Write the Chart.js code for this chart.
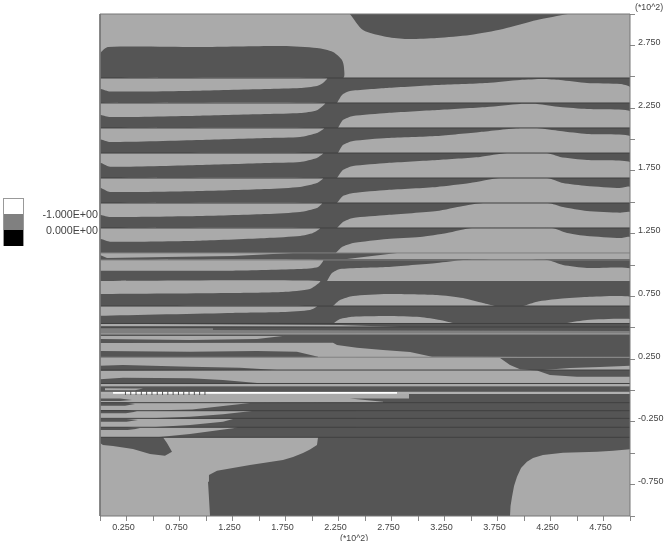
<!DOCTYPE html>
<html lang="en">
<head>
<meta charset="UTF-8" />
<title>Contour plot</title>
<script src="https://cdn.jsdelivr.net/npm/chart.js"></script>
<style>
    html, body { margin: 0; padding: 0; background: #fff; width: 665px; height: 541px; overflow: hidden; }
    #wrap { position: relative; width: 665px; height: 541px; font-family: "Liberation Sans", Arial, sans-serif; color: #444; }
    canvas { position: absolute; left: 0; top: 0; }
    .swatch { position: absolute; left: 3px; width: 19px; height: 16px; border-left: 1px solid #999; border-right: 1px solid #999; }
    .txt { position: absolute; white-space: nowrap; line-height: 12px; }
    .leg { font-size: 10.7px; right: 567px; }
    .unit { font-size: 8.8px; }
</style>
</head>
<body>
<div id="wrap">
    <canvas id="chart" width="665" height="541"></canvas>
    <div class="swatch" style="top:198px;background:#fff;border-top:1px solid #999"></div>
    <div class="swatch" style="top:214px;background:#808080"></div>
    <div class="swatch" style="top:230px;background:#000"></div>
    <span class="txt leg" style="top:208px">-1.000E+00</span>
    <span class="txt leg" style="top:224px">0.000E+00</span>
    <span class="txt unit" style="left:635px;top:1px">(*10^2)</span>
    <span class="txt unit" style="left:340px;top:532px">(*10^2)</span>
</div>
<script>
// tick labels, values are in units of 10^2
const xTickLabels = ["0.250", "0.750", "1.250", "1.750", "2.250", "2.750", "3.250", "3.750", "4.250", "4.750"];
const yTickLabels = ["2.750", "2.250", "1.750", "1.250", "0.750", "0.250", "-0.250", "-0.750"];

const LIGHT = "#aaaaaa", DARK = "#555555", MID = "#7f7f7f";

const fullArea = [[0, -1], [5, -1], [5, 3], [0, 3]];

// dark regions of the contour
const topBlob = [[2.358, 3], [2.481, 2.873], [2.708, 2.817], [2.896, 2.801], [3.179, 2.809], [3.491, 2.833], [3.802, 2.881], [4.123, 2.952], [4.415, 3]];
const leftBlob = [[0, 2.681], [0.01, 2.697], [0.075, 2.737], [0.943, 2.737], [1.726, 2.745], [2.047, 2.729], [2.198, 2.697], [2.283, 2.633], [2.302, 2.57], [2.292, 2.49], [0, 2.49]];
const mainBlock = [[0, 2.49], [5, 2.49], [5, 0.265], [3.132, 0.269], [2.925, 0.307], [2.67, 0.323], [2.425, 0.341], [2.236, 0.363], [2.198, 0.381], [0, 0.378]];
const lowerRight = [[3.774, 0.259], [5, 0.259], [5, 0.11], [4.5, 0.11], [4.245, 0.124], [4.123, 0.159], [3.962, 0.169], [3.868, 0.203]];
const bandB = [[0, 0.315], [0.849, 0.309], [1.481, 0.315], [1.858, 0.309], [2.057, 0.269], [2.057, 0.265], [0, 0.265]];
const bandC = [[0, 0.198], [0.217, 0.203], [0.849, 0.19], [1.321, 0.182], [1.67, 0.163], [0, 0.158]];
const bandD = [[0, 0.089], [0.217, 0.102], [0.849, 0.097], [1.16, 0.084], [1.509, 0.057], [0, 0.057]];
const bandE = [[0, 0.025], [5, 0.025], [5, -0.01], [0, -0.01]];
const finger1 = [[0, -0.064], [0.189, -0.064], [0.302, -0.076], [0.189, -0.084], [0, -0.084]];
const finger2 = [[0, -0.096], [0.236, -0.096], [0.33, -0.108], [0.236, -0.121], [0, -0.121]];
const finger3 = [[0, -0.155], [0.245, -0.155], [0.349, -0.167], [0.245, -0.182], [0, -0.182]];
const finger4 = [[0, -0.227], [0.25, -0.227], [0.358, -0.235], [0.25, -0.249], [0, -0.249]];
const finger5 = [[0, -0.293], [0.26, -0.293], [0.377, -0.303], [0.26, -0.315], [0, -0.315]];
const bottomBlob = [[0, -0.373], [0.594, -0.373], [0.632, -0.418], [0.679, -0.488], [0.613, -0.52], [0.472, -0.506], [0.311, -0.466], [0.123, -0.442], [0.028, -0.434], [0, -0.418]];
const bigDark = [[2.915, -0.028], [5, -0.028], [5, -0.468], [4.84, -0.48], [4.689, -0.488], [4.368, -0.496], [4.179, -0.514], [4.085, -0.538], [4.028, -0.567], [3.972, -0.618], [3.934, -0.687], [3.906, -0.761], [3.887, -0.846], [3.873, -0.92], [3.868, -1], [1.038, -1], [1.019, -0.727], [1.028, -0.673], [1.104, -0.639], [1.415, -0.594], [1.726, -0.554], [1.821, -0.53], [1.915, -0.498], [1.981, -0.471], [2.047, -0.434], [2.057, -0.373], [0.538, -0.373], [0.849, -0.347], [1.255, -0.301], [1.3, -0.293], [0.49, -0.293], [0.849, -0.275], [1.16, -0.249], [1.255, -0.227], [0.472, -0.222], [0.849, -0.209], [1.16, -0.19], [1.434, -0.163], [0.472, -0.159], [0.868, -0.151], [1.415, -0.1], [2.67, -0.097], [2.67, -0.09], [2.358, -0.063], [2.915, -0.063]];

// light fingers, left of the front
const left1 = [[0, 2.49], [2.142, 2.49], [2.104, 2.45], [2.047, 2.426], [1.887, 2.41], [1.575, 2.402], [0.943, 2.389], [0.094, 2.382], [0.01, 2.402], [0, 2.402]];
const left2 = [[0, 2.291], [2.123, 2.291], [2.047, 2.234], [1.887, 2.211], [1.575, 2.203], [0.943, 2.19], [0.094, 2.179], [0.01, 2.195], [0, 2.195]];
const left3 = [[0, 2.092], [2.113, 2.092], [2.047, 2.052], [1.887, 2.02], [1.575, 2.012], [0.943, 1.996], [0.094, 1.98], [0.01, 2.0], [0, 2.0]];
const left4 = [[0, 1.892], [2.104, 1.892], [2.047, 1.853], [1.887, 1.821], [1.575, 1.813], [0.943, 1.797], [0.094, 1.783], [0.01, 1.813], [0, 1.813]];
const left5 = [[0, 1.693], [2.104, 1.693], [2.047, 1.653], [1.887, 1.622], [1.575, 1.606], [0.943, 1.59], [0.094, 1.582], [0.01, 1.614], [0, 1.614]];
const left6 = [[0, 1.494], [2.094, 1.494], [2.047, 1.454], [1.887, 1.422], [1.575, 1.406], [0.943, 1.39], [0.094, 1.382], [0.01, 1.398], [0, 1.398]];
const left7 = [[0, 1.295], [2.075, 1.295], [2.009, 1.255], [1.887, 1.231], [1.575, 1.215], [0.943, 1.194], [0.094, 1.186], [0.01, 1.207], [0, 1.207]];
const left8 = [[0, 1.096], [1.821, 1.096], [1.255, 1.072], [0.632, 1.064], [0.066, 1.056], [0, 1.08]];
const left9 = [[0, 1.04], [2.104, 1.04], [2.057, 0.984], [1.887, 0.968], [1.255, 0.955], [0, 0.955]];
const left10 = [[0, 0.873], [2.075, 0.873], [1.981, 0.809], [1.726, 0.785], [1.255, 0.777], [0, 0.769]];
const left11 = [[0, 0.673], [2.047, 0.673], [1.981, 0.641], [1.726, 0.625], [1.255, 0.618], [0, 0.596]];

// light fingers, right of the front
const right1 = [[2.236, 2.291], [2.283, 2.355], [2.358, 2.386], [2.708, 2.41], [3.179, 2.434], [3.651, 2.45], [3.962, 2.474], [4.179, 2.482], [4.34, 2.474], [4.594, 2.45], [4.906, 2.442], [5, 2.418], [5, 2.291]];
const right2 = [[2.245, 2.092], [2.292, 2.155], [2.387, 2.187], [2.708, 2.211], [3.179, 2.235], [3.651, 2.259], [3.962, 2.283], [4.123, 2.283], [4.34, 2.259], [4.594, 2.243], [5, 2.227], [5, 2.092]];
const right3 = [[2.245, 1.892], [2.292, 1.956], [2.387, 1.988], [2.708, 2.012], [3.179, 2.028], [3.585, 2.06], [3.962, 2.092], [4.123, 2.092], [4.34, 2.068], [4.594, 2.044], [5, 2.028], [5, 1.892]];
const right4 = [[2.236, 1.693], [2.292, 1.757], [2.387, 1.789], [2.708, 1.813], [3.179, 1.837], [3.585, 1.861], [3.84, 1.892], [4.217, 1.892], [4.34, 1.861], [4.594, 1.837], [5, 1.821], [5, 1.693]];
const right5 = [[2.236, 1.494], [2.292, 1.55], [2.387, 1.574], [2.708, 1.598], [3.179, 1.622], [3.491, 1.653], [3.774, 1.693], [4.217, 1.693], [4.368, 1.653], [4.594, 1.63], [4.906, 1.614], [5, 1.622], [5, 1.494]];
const right6 = [[2.236, 1.295], [2.292, 1.343], [2.387, 1.375], [2.708, 1.398], [3.179, 1.43], [3.425, 1.47], [3.613, 1.494], [4.226, 1.494], [4.368, 1.462], [4.594, 1.43], [4.906, 1.417], [5, 1.422], [5, 1.295]];
const right7 = [[2.226, 1.096], [2.283, 1.143], [2.387, 1.175], [2.708, 1.207], [3.019, 1.223], [3.274, 1.255], [3.509, 1.295], [4.264, 1.295], [4.406, 1.255], [4.594, 1.231], [4.906, 1.215], [5, 1.223], [5, 1.096]];
const right8 = [[2.33, 1.048], [2.802, 1.096], [5, 1.096], [5, 1.048]];
const right9 = [[2.142, 0.873], [2.189, 0.936], [2.264, 0.968], [2.708, 0.984], [3.179, 1.016], [3.425, 1.04], [4.217, 1.04], [4.368, 1.0], [4.594, 0.976], [5, 0.974], [5, 0.873]];
const right10a = [[2.198, 0.673], [2.264, 0.721], [2.387, 0.753], [2.708, 0.769], [3.179, 0.761], [3.425, 0.737], [3.613, 0.697], [3.726, 0.673]];
const right10b = [[3.991, 0.673], [4.123, 0.708], [4.34, 0.731], [4.594, 0.745], [5, 0.747], [5, 0.673]];
const right11a = [[2.208, 0.538], [2.264, 0.57], [2.387, 0.588], [2.708, 0.594], [3.019, 0.586], [3.208, 0.562], [3.33, 0.538]];
const right11b = [[4.406, 0.538], [4.594, 0.562], [5, 0.57], [5, 0.538]];

// thin slivers around y = 0.5 and y = 0
const sliver1 = [[0, 0.531], [2.264, 0.522], [2.83, 0.506], [2.198, 0.506], [1.066, 0.51], [0, 0.51]];
const sliver2 = [[0, 0.434], [1.726, 0.434], [1.764, 0.438], [1.481, 0.41], [0.849, 0.402], [0, 0.41]];
const sliver3 = [[4.179, 0.163], [4.434, 0.179], [4.717, 0.187], [5, 0.198], [5, 0.163]];
const sliver4 = [[0.047, 0.018], [0.406, 0.016], [0.33, 0.002], [0.047, 0.002]];
const midBand = [[0, 0.496], [1.066, 0.496], [1.066, 0.482], [5, 0.474], [5, 0.458], [0, 0.458]];
const whiteBar = [[0.123, -0.012], [2.802, -0.012], [2.802, -0.026], [0.123, -0.026]];

// horizontal mesh lines
const darkLines = [2.49, 2.291, 2.092, 1.892, 1.693, 1.494, 1.295, 0.673, 0.534, 0.506, 0.163, 0.056, 0.028, -0.097, -0.161, -0.222, -0.293, -0.373];
const midLines = [1.096, 1.04, 0.265];
const paleLines = [0.451, -0.02];

// tiny marks sitting on the white bar
const markX = [0.24, 0.29, 0.34, 0.39, 0.44, 0.49, 0.54, 0.59, 0.64, 0.69, 0.74, 0.79, 0.84, 0.89, 0.94, 0.99];

function area(points, color, tension) {
    return { data: points, showLine: true, fill: "shape", backgroundColor: color, borderColor: color, borderWidth: 0, pointRadius: 0, tension: tension || 0 };
}

function hline(y, color) {
    return { data: [[0, y], [5, y]], showLine: true, fill: false, borderColor: color, borderWidth: 1, pointRadius: 0 };
}

// painter's order, reversed below because chart.js draws the first dataset last
const layers = [
    area(fullArea, LIGHT),
    ...[topBlob, leftBlob].map(p => area(p, DARK, 0.25)),
    ...[mainBlock, lowerRight, bandB, bandC, bandD, bandE, finger1, finger2, finger3, finger4, finger5, bottomBlob, bigDark].map(p => area(p, DARK)),
    ...[left1, left2, left3, left4, left5, left6, left7, left9, left10, left11,
        right1, right2, right3, right4, right5, right6, right7, right9, right10a, right10b, right11a, right11b].map(p => area(p, LIGHT, 0.2)),
    ...[left8, right8, sliver1, sliver2, sliver3, sliver4].map(p => area(p, LIGHT)),
    area(midBand, MID),
    ...darkLines.map(y => hline(y, "#404040")),
    ...midLines.map(y => hline(y, "#808080")),
    ...paleLines.map(y => hline(y, "#b8b8b8")),
    area(whiteBar, "#ffffff"),
    {
        data: markX.map(x => [x, -0.02]), showLine: false, pointStyle: "line", rotation: 90,
        pointRadius: 2, borderColor: "#555555", borderWidth: 1
    },
    { data: [...fullArea, fullArea[0]], showLine: true, fill: false, borderColor: "#777777", borderWidth: 1, pointRadius: 0, clip: 4 }
];

new Chart(document.getElementById("chart"), {
    type: "scatter",
    data: { datasets: layers.slice().reverse() },
    options: {
        responsive: false,
        animation: false,
        events: [],
        layout: { padding: { left: 100, top: 14, right: 0, bottom: 0 } },
        plugins: { legend: { display: false }, tooltip: { enabled: false } },
        scales: {
            x: {
                type: "linear", min: 0, max: 5,
                afterFit: s => { s.height = 25; },
                grid: { drawOnChartArea: false, tickLength: 5, tickColor: "#888888" },
                border: { display: false },
                ticks: {
                    stepSize: 0.25, autoSkip: false, maxRotation: 0, padding: 1, labelOffset: -3,
                    font: { family: "Liberation Sans", size: 9 }, color: "#444444",
                    callback: v => xTickLabels.includes(v.toFixed(3)) ? v.toFixed(3) : ""
                }
            },
            y: {
                type: "linear", position: "right", min: -1, max: 3,
                afterFit: s => { s.width = 35; },
                grid: { drawOnChartArea: false, tickLength: 5, tickColor: "#888888" },
                border: { display: false },
                ticks: {
                    stepSize: 0.25, autoSkip: false, padding: 3, labelOffset: -3,
                    font: { family: "Liberation Sans", size: 9 }, color: "#444444",
                    callback: v => yTickLabels.includes(v.toFixed(3)) ? v.toFixed(3) : ""
                }
            }
        }
    }
});
</script>
</body>
</html>
